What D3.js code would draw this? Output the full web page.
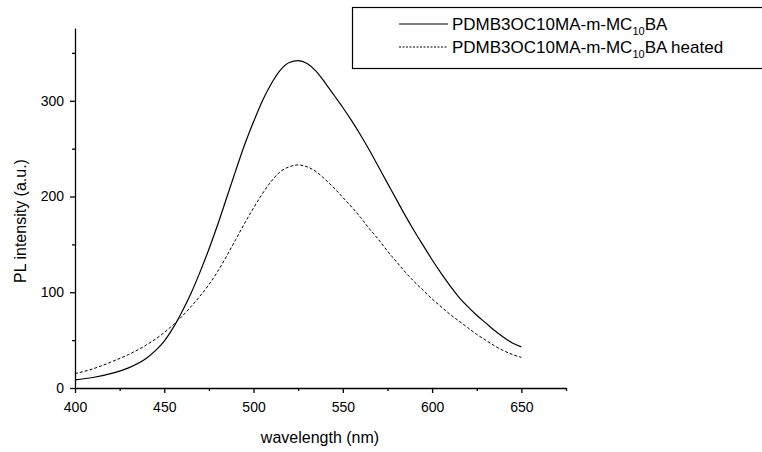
<!DOCTYPE html>
<html>
<head>
<meta charset="utf-8">
<script src="https://cdn.jsdelivr.net/npm/d3@7"></script>
<style>
  body { margin: 0; background: white; }
  svg { display: block; font-family: Arial, "Liberation Sans", sans-serif; }
</style>
</head>
<body>
<div id="idMyCanvas"></div>
<script>
// wavelength grid (nm)
let wavelength = [400, 410, 420, 430, 440, 445, 450, 455, 460, 465, 470, 475, 480, 485, 490, 495,
                  500, 505, 510, 515, 520, 525, 530, 535, 540, 545, 550, 555, 560, 565, 570,
                  575, 580, 585, 590, 595, 600, 605, 610, 615, 620, 625, 630, 635, 640, 645, 650];

// PL intensity, as cast
let pl_asis = [8.5, 11, 15, 21, 31, 39, 49, 63, 80, 99, 121, 145, 171, 199, 227, 254,
               278, 300, 318, 332, 340, 342, 339, 331, 319, 306, 293, 279, 264, 248, 231,
               214, 197, 180, 164, 149, 134, 120, 107, 95, 85, 76, 68, 60, 53, 47, 43];

// PL intensity, heated
let pl_heated = [15, 20, 27, 35, 45, 51, 58, 66, 75, 85, 96, 108, 122, 138, 155, 172,
                 188, 203, 216, 226, 231, 233, 231, 226, 218, 209, 199, 189, 178, 166, 155,
                 143, 132, 121, 111, 102, 93, 85, 77, 70, 63, 56, 50, 44, 39, 35, 32];

let x_ticks = [400, 450, 500, 550, 600, 650];
let x_minor = [425, 475, 525, 575, 625, 675];
let y_ticks = [0, 100, 200, 300];
let y_minor = [50, 150, 250, 350];

let series_names = ["PDMB3OC10MA-m-MC", "PDMB3OC10MA-m-MC"];
let series_tails = ["BA", "BA heated"];

let width = 762, height = 452;

let svg_obj = d3.select("#idMyCanvas")
                .append("svg")
                  .attr("width", width)
                  .attr("height", height);

let x = d3.scaleLinear().domain([400, 675]).range([75, 566]);
let y = d3.scaleLinear().domain([0, 376]).range([388, 28]);

// axes
svg_obj.append("g")
       .attr("transform", "translate(0,388)")
       .call(d3.axisBottom(x).tickValues(x_ticks).tickSize(5).tickPadding(9).tickSizeOuter(0));
svg_obj.append("g")
       .attr("transform", "translate(0,388)")
       .call(d3.axisBottom(x).tickValues(x_minor).tickSize(3).tickFormat("").tickSizeOuter(0))
       .select(".domain").remove();

svg_obj.append("g")
       .attr("transform", "translate(75,0)")
       .call(d3.axisLeft(y).tickValues(y_ticks).tickSize(5).tickPadding(6).tickSizeOuter(0));
svg_obj.append("g")
       .attr("transform", "translate(75,0)")
       .call(d3.axisLeft(y).tickValues(y_minor).tickSize(3).tickFormat("").tickSizeOuter(0))
       .select(".domain").remove();

svg_obj.selectAll(".domain, .tick line")
       .attr("stroke", "#000")
       .attr("stroke-width", 1.3);
svg_obj.selectAll(".tick text")
       .attr("font-size", "14px")
       .attr("font-family", "Arial, 'Liberation Sans', sans-serif")
       .attr("fill", "#000");

// axis titles
svg_obj.append("text")
       .attr("x", 320)
       .attr("y", 443)
       .attr("text-anchor", "middle")
       .attr("font-size", "16px")
       .attr("fill", "#000")
       .text("wavelength (nm)");

svg_obj.append("text")
       .attr("transform", "translate(26,221) rotate(-90)")
       .attr("text-anchor", "middle")
       .attr("font-size", "16px")
       .attr("fill", "#000")
       .text("PL intensity (a.u.)");

// curves
let line_gen = d3.line()
                 .x(d => x(d[0]))
                 .y(d => y(d[1]))
                 .curve(d3.curveMonotoneX);

svg_obj.append("path")
       .datum(d3.zip(wavelength, pl_asis))
       .attr("d", line_gen)
       .attr("fill", "none")
       .attr("stroke", "#000")
       .attr("stroke-width", 1.2);

svg_obj.append("path")
       .datum(d3.zip(wavelength, pl_heated))
       .attr("d", line_gen)
       .attr("fill", "none")
       .attr("stroke", "#000")
       .attr("stroke-width", 1)
       .attr("stroke-dasharray", "3,2");

// legend
svg_obj.append("rect")
       .attr("x", 352.5)
       .attr("y", 7.5)
       .attr("width", 420)
       .attr("height", 61)
       .attr("fill", "white")
       .attr("stroke", "#000")
       .attr("stroke-width", 1.2);

let legend_rows = [24, 47];
legend_rows.forEach(function(ly, i) {
  svg_obj.append("line")
         .attr("x1", 399).attr("x2", 448)
         .attr("y1", ly).attr("y2", ly)
         .attr("stroke", "#000")
         .attr("stroke-width", i == 0 ? 1.2 : 1)
         .attr("stroke-dasharray", i == 0 ? null : "2,1.5");
  let t = svg_obj.append("text")
                 .attr("x", 452)
                 .attr("y", ly + 6)
                 .attr("font-size", "17px")
                 .attr("fill", "#000");
  t.append("tspan").text(series_names[i]);
  t.append("tspan").attr("font-size", "11px").attr("dy", 5).text("10");
  t.append("tspan").attr("dy", -5).text(series_tails[i]);
});
</script>
</body>
</html>
